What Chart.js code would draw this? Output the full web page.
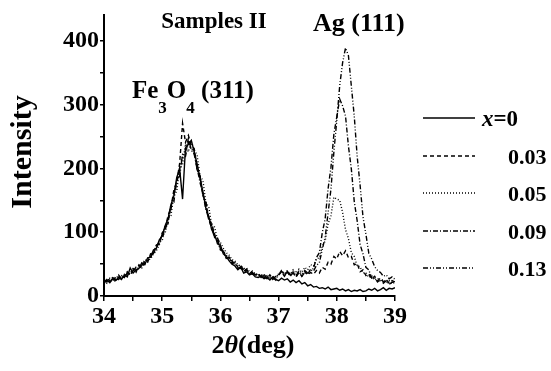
<!DOCTYPE html>
<html lang="en">
<head>
<meta charset="UTF-8" />
<title>Samples II</title>
<script src="https://cdn.jsdelivr.net/npm/chart.js@4"></script>
<style>
  body { margin: 0; background: #fff; }
  canvas { display: block; }
</style>
</head>
<body>
<canvas id="xrd" width="551" height="371"></canvas>
<script>
// 2-theta scan, 0.05 deg step
const ANGLES = [
  34.00, 34.05, 34.10, 34.15, 34.20, 34.25, 34.30, 34.35, 34.40, 34.45,
  34.50, 34.55, 34.60, 34.65, 34.70, 34.75, 34.80, 34.85, 34.90, 34.95,
  35.00, 35.05, 35.10, 35.15, 35.20, 35.25, 35.30, 35.35, 35.40, 35.45,
  35.50, 35.55, 35.60, 35.65, 35.70, 35.75, 35.80, 35.85, 35.90, 35.95,
  36.00, 36.05, 36.10, 36.15, 36.20, 36.25, 36.30, 36.35, 36.40, 36.45,
  36.50, 36.55, 36.60, 36.65, 36.70, 36.75, 36.80, 36.85, 36.90, 36.95,
  37.00, 37.05, 37.10, 37.15, 37.20, 37.25, 37.30, 37.35, 37.40, 37.45,
  37.50, 37.55, 37.60, 37.65, 37.70, 37.75, 37.80, 37.85, 37.90, 37.95,
  38.00, 38.05, 38.10, 38.15, 38.20, 38.25, 38.30, 38.35, 38.40, 38.45,
  38.50, 38.55, 38.60, 38.65, 38.70, 38.75, 38.80, 38.85, 38.90, 38.95,
  39.00
];

// intensities (counts) for each Ag fraction x
const I_X000 = [
  22, 25, 21, 27, 24, 29, 26, 33, 30, 44,
  36, 41, 43, 52, 49, 60, 61, 72, 75, 88,
  94, 110, 121, 143, 157, 186, 199, 152, 232, 238,
  244, 226, 207, 185, 163, 138, 125, 104, 97, 82,
  79, 66, 62, 55, 50, 47, 41, 45, 36, 38,
  33, 35, 30, 29, 31, 27, 29, 25, 30, 26,
  24, 28, 25, 27, 22, 25, 21, 24, 19, 21,
  16, 18, 14, 15, 12, 13, 11, 14, 10, 11,
  12, 9, 11, 8, 10, 7, 9, 8, 10, 7,
  8, 11, 9, 12, 8, 10, 13, 9, 12, 11,
  13
];
const I_X003 = [
  19, 27, 24, 22, 30, 26, 31, 29, 38, 33,
  40, 37, 49, 46, 55, 53, 66, 65, 79, 83,
  99, 105, 126, 138, 166, 179, 208, 271, 241, 252,
  236, 231, 198, 189, 158, 146, 119, 112, 92, 89,
  74, 71, 60, 61, 52, 53, 45, 48, 40, 42,
  35, 39, 33, 36, 30, 34, 28, 33, 27, 31,
  33, 38, 31, 37, 32, 36, 30, 37, 31, 38,
  33, 37, 34, 40, 36, 45, 42, 53, 50, 62,
  58, 70, 63, 71, 60, 62, 49, 51, 38, 41,
  32, 35, 27, 31, 24, 28, 22, 26, 20, 24,
  22
];
const I_X005 = [
  24, 20, 28, 25, 23, 31, 28, 34, 32, 36,
  42, 39, 46, 44, 53, 56, 58, 66, 71, 80,
  96, 98, 121, 126, 158, 164, 201, 206, 238, 226,
  242, 229, 221, 188, 181, 146, 140, 111, 108, 88,
  84, 75, 68, 64, 57, 55, 49, 47, 43, 44,
  38, 37, 36, 32, 34, 30, 32, 27, 31, 28,
  34, 40, 35, 39, 34, 41, 36, 42, 37, 45,
  41, 49, 47, 58, 60, 78, 86, 113, 126, 155,
  152, 150, 131, 104, 90, 68, 62, 47, 46, 36,
  37, 29, 32, 25, 28, 23, 26, 21, 24, 19,
  22
];
const I_X009 = [
  26, 22, 25, 29, 26, 33, 27, 31, 35, 34,
  39, 45, 42, 48, 57, 55, 64, 67, 80, 82,
  97, 104, 119, 136, 161, 177, 201, 219, 226, 247,
  229, 222, 201, 178, 161, 136, 121, 106, 92, 87,
  72, 70, 59, 60, 51, 52, 43, 46, 39, 41,
  34, 37, 32, 35, 29, 33, 27, 32, 26, 30,
  33, 39, 32, 38, 31, 37, 30, 38, 31, 37,
  34, 42, 43, 60, 68, 99, 121, 168, 202, 254,
  281, 309, 298, 282, 235, 199, 148, 118, 81, 66,
  45, 41, 28, 29, 22, 26, 20, 24, 18, 22,
  20
];
const I_X013 = [
  21, 26, 23, 28, 25, 27, 32, 30, 36, 35,
  43, 40, 45, 51, 50, 59, 60, 70, 74, 86,
  86, 112, 113, 144, 147, 182, 188, 222, 219, 241,
  231, 226, 198, 187, 157, 148, 121, 115, 94, 91,
  80, 69, 65, 57, 55, 49, 48, 43, 42, 37,
  38, 34, 35, 31, 33, 29, 31, 28, 29, 25,
  35, 39, 34, 40, 33, 38, 32, 39, 34, 40,
  36, 41, 39, 48, 52, 73, 92, 130, 168, 226,
  276, 330, 366, 389, 377, 329, 282, 219, 174, 124,
  97, 67, 58, 46, 40, 37, 31, 33, 27, 30,
  26
];

const SERIES_LABELS = ['0', '0.03', '0.05', '0.09', '0.13'];
const SERIES_VALUES = [I_X000, I_X003, I_X005, I_X009, I_X013];
const X_TICK_LABELS = [34, 35, 36, 37, 38, 39];
const Y_TICK_LABELS = [0, 100, 200, 300, 400];

// line styles: solid, dash, dot, dash-dot, dash-dot-dot
const DASHES = [[], [4, 3], [1, 2], [5, 2, 1, 2], [5, 2, 1, 2, 1, 2]];
const SERIF = "'Liberation Serif', 'Times New Roman', serif";

// draws a run of [text, font, dy] pieces left to right
function drawRun(ctx, pieces, x, y) {
  for (const [text, font, dy] of pieces) {
    ctx.font = font;
    ctx.fillText(text, x, y + (dy || 0));
    x += ctx.measureText(text).width;
  }
  return x;
}

function runWidth(ctx, pieces) {
  let w = 0;
  for (const [text, font] of pieces) {
    ctx.font = font;
    w += ctx.measureText(text).width;
  }
  return w;
}

const labelsPlugin = {
  id: 'labels',
  afterDraw(chart) {
    const ctx = chart.ctx;
    ctx.save();
    ctx.fillStyle = '#000';
    ctx.strokeStyle = '#000';
    ctx.textBaseline = 'alphabetic';

    // plot annotations
    ctx.textAlign = 'center';
    ctx.font = `bold 23px ${SERIF}`;
    ctx.fillText('Samples II', 214, 28);

    ctx.textAlign = 'left';
    ctx.font = `bold 26px ${SERIF}`;
    ctx.fillText('Ag (111)', 313, 31);

    drawRun(ctx, [
      ['Fe', `bold 25px ${SERIF}`],
      ['3', `bold 17px ${SERIF}`, 15],
      ['O', `bold 25px ${SERIF}`],
      ['4', `bold 17px ${SERIF}`, 15],
      [' (311)', `bold 25px ${SERIF}`]
    ], 132, 98);

    // x axis title
    const xTitle = [
      ['2', `bold 26px ${SERIF}`],
      ['\u03b8', `italic bold 26px ${SERIF}`],
      ['(deg)', `bold 26px ${SERIF}`]
    ];
    drawRun(ctx, xTitle, 253 - runWidth(ctx, xTitle) / 2, 353);

    // y axis title
    ctx.save();
    ctx.translate(31, 152);
    ctx.rotate(-Math.PI / 2);
    ctx.textAlign = 'center';
    ctx.font = `bold 30px ${SERIF}`;
    ctx.fillText('Intensity', 0, 0);
    ctx.restore();

    // legend
    const rows = [118, 156, 193, 231, 268];
    chart.data.datasets.forEach((ds, i) => {
      const y = rows[i];
      ctx.beginPath();
      ctx.setLineDash(ds.borderDash);
      ctx.lineWidth = 1.4;
      ctx.moveTo(423, y);
      ctx.lineTo(475, y);
      ctx.stroke();
      ctx.setLineDash([]);
      if (i === 0) {
        drawRun(ctx, [
          ['x', `italic bold 23px ${SERIF}`],
          ['=' + SERIES_LABELS[0], `bold 23px ${SERIF}`]
        ], 482, y + 8);
      } else {
        ctx.font = `bold 22px ${SERIF}`;
        ctx.fillText(SERIES_LABELS[i], 508, y + 8);
      }
    });
    ctx.restore();
  }
};

const tickFont = { family: SERIF, size: 24, weight: 'bold' };

new Chart(document.getElementById('xrd'), {
  type: 'line',
  data: {
    datasets: SERIES_VALUES.map((vals, i) => ({
      label: SERIES_LABELS[i],
      data: ANGLES.map((a, j) => ({ x: a, y: vals[j] })),
      borderColor: '#000',
      borderWidth: 1.4,
      borderDash: DASHES[i],
      pointRadius: 0,
      tension: 0,
      fill: false
    }))
  },
  options: {
    responsive: false,
    animation: false,
    devicePixelRatio: 1,
    layout: { padding: { top: 6, right: 156, bottom: 0, left: 0 } },
    plugins: {
      legend: { display: false },
      tooltip: { enabled: false }
    },
    scales: {
      x: {
        type: 'linear',
        min: 34,
        max: 39,
        afterFit(scale) { scale.height = 75; },
        border: { color: '#000', width: 2 },
        grid: { drawOnChartArea: false, tickLength: 5, color: '#000', lineWidth: 1.5 },
        ticks: {
          stepSize: 0.5,
          autoSkip: false,
          maxRotation: 0,
          padding: 1,
          color: '#000',
          font: tickFont,
          callback: v => X_TICK_LABELS.includes(v) ? String(v) : ''
        }
      },
      y: {
        min: 0,
        max: 440,
        afterFit(scale) { scale.width = 104; },
        border: { color: '#000', width: 2 },
        grid: { drawOnChartArea: false, tickLength: 4, color: '#000', lineWidth: 1.5 },
        ticks: {
          stepSize: 50,
          includeBounds: false,
          padding: 1,
          color: '#000',
          font: tickFont,
          callback: v => Y_TICK_LABELS.includes(v) ? String(v) : ''
        }
      }
    }
  },
  plugins: [labelsPlugin]
});
</script>
</body>
</html>
